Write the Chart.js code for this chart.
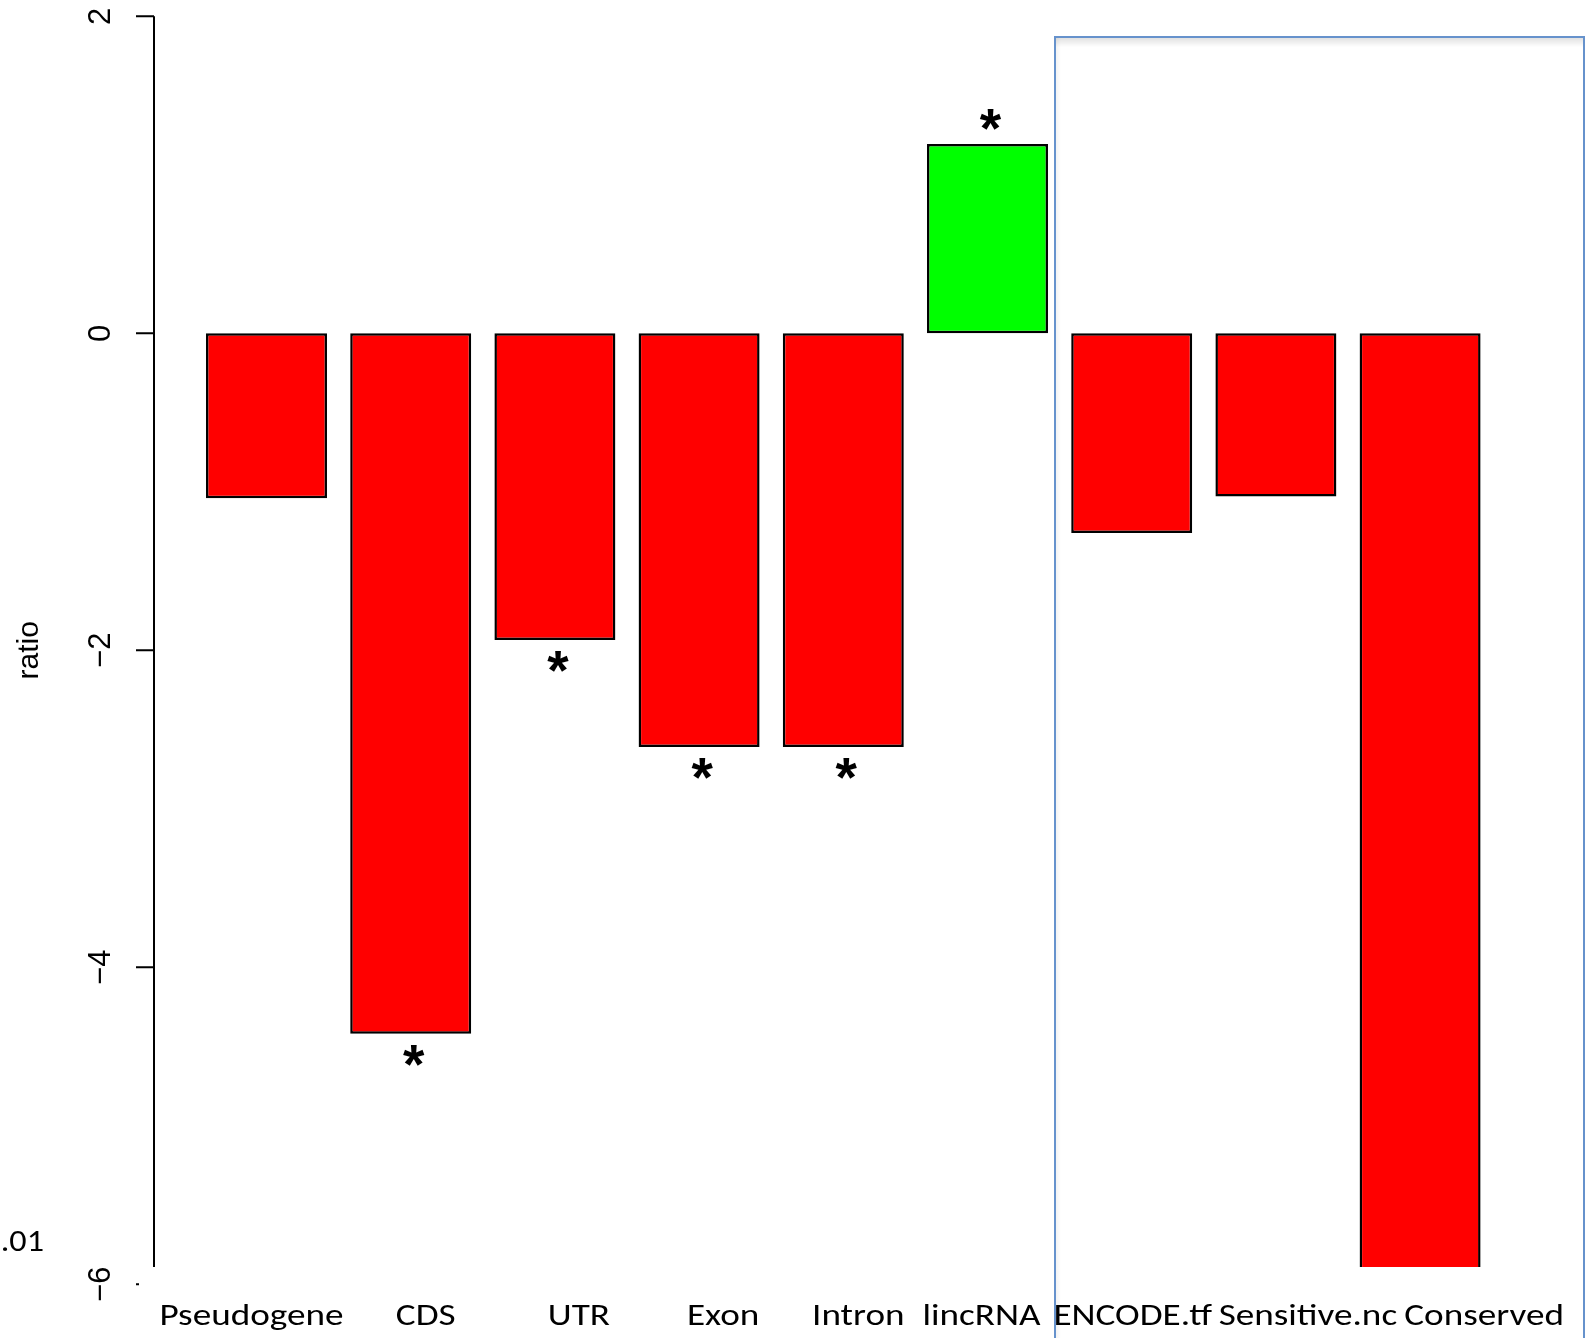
<!DOCTYPE html>
<html>
<head>
<meta charset="utf-8">
<script src="https://cdn.jsdelivr.net/npm/chart.js@4.4.0/dist/chart.umd.min.js"></script>
<style>
  html, body { margin: 0; padding: 0; background: #fff; }
  #wrap { width: 1591px; height: 1338px; position: relative; }
</style>
</head>
<body>
<div id="wrap"><canvas id="chart"></canvas></div>
<script>
// Data
const categories = ['Pseudogene', 'CDS', 'UTR', 'Exon', 'Intron', 'lincRNA', 'ENCODE.tf', 'Sensitive.nc', 'Conserved'];
const ratios = [-1.04, -4.42, -1.935, -2.61, -2.61, 1.195, -1.26, -1.03, -6.0];
const significant = [false, true, true, true, true, true, false, false, false];
const yTicks = [-6, -4, -2, 0, 2];
const yLabel = 'ratio';
const noteText = 'p<0.01';

// label nudges (the labels in the figure are not centred on the bars)
const labelShift = [-15, 15, 24, 24, 15, -6, 1, 32, 64];

const barColors = ratios.map(v => v >= 0 ? '#00ff00' : '#ff0000');

const decorations = {
    id: 'decorations',
    afterDraw(chart) {
        const ctx = chart.ctx;
        const y = chart.scales.y;
        const x = chart.scales.x;
        const axisX = 154;

        ctx.save();
        ctx.fillStyle = '#000';
        ctx.strokeStyle = '#000';

        // y axis line + ticks
        ctx.lineWidth = 2;
        ctx.beginPath();
        ctx.moveTo(axisX, y.getPixelForValue(yTicks[yTicks.length - 1]));
        ctx.lineTo(axisX, y.getPixelForValue(yTicks[0]));
        yTicks.forEach(t => {
            const py = y.getPixelForValue(t);
            ctx.moveTo(axisX - 18, py);
            ctx.lineTo(axisX, py);
        });
        ctx.stroke();

        // tick labels, rotated like base R
        ctx.font = '31px "Liberation Sans", Arial, sans-serif';
        ctx.textAlign = 'center';
        ctx.textBaseline = 'alphabetic';
        yTicks.forEach(t => {
            const py = y.getPixelForValue(t);
            ctx.save();
            ctx.translate(110, py);
            ctx.rotate(-Math.PI / 2);
            ctx.fillText(t < 0 ? '\u2212' + Math.abs(t) : String(t), 0, 0);
            ctx.restore();
        });

        // axis title
        ctx.font = '30px "Liberation Sans", Arial, sans-serif';
        ctx.save();
        ctx.translate(38, (chart.chartArea.top + chart.chartArea.bottom) / 2);
        ctx.rotate(-Math.PI / 2);
        ctx.fillText(yLabel, 0, 0);
        ctx.restore();

        // significance stars
        ctx.font = 'bold 60px "Liberation Sans", Arial, sans-serif';
        let m = ctx.measureText('*');
        const starSize = 60 * 22 / (m.actualBoundingBoxLeft + m.actualBoundingBoxRight);
        ctx.font = 'bold ' + starSize + 'px "Liberation Sans", Arial, sans-serif';
        m = ctx.measureText('*');
        ctx.textAlign = 'center';
        const gy = (m.actualBoundingBoxDescent - m.actualBoundingBoxAscent) / 2;
        ratios.forEach((v, i) => {
            if (!significant[i]) return;
            const cx = x.getPixelForValue(i) + 3;
            const cy = y.getPixelForValue(v) + (v >= 0 ? -24 : 22);
            ctx.fillText('*', cx, cy - gy);
        });

        // pasted label strip covers the bottom of the plot
        ctx.fillStyle = '#fff';
        ctx.fillRect(139, 1267, chart.width - 139, chart.height - 1267);

        // category labels (Calibri-like, fitted by width)
        ctx.fillStyle = '#000';
        ctx.font = '31px Carlito, Lato, sans-serif';
        ctx.textAlign = 'center';
        const sx = 184 / ctx.measureText(categories[0]).width;
        categories.forEach((c, i) => {
            ctx.save();
            ctx.translate(x.getPixelForValue(i) + labelShift[i], 1325);
            ctx.scale(sx, 1);
            ctx.fillText(c, 0, 0);
            ctx.restore();
        });

        // cut-off note at far left
        ctx.textAlign = 'right';
        ctx.save();
        ctx.translate(44, 1251);
        ctx.scale(sx * 0.92, 1);
        ctx.fillText(noteText, 0, 0);
        ctx.restore();

        // blue highlight box with a soft shadow
        const bx = 1055, by = 37, bw = 1584 - 1055;
        const g = ctx.createLinearGradient(0, by, 0, by + 10);
        g.addColorStop(0, 'rgba(0,0,0,0.13)');
        g.addColorStop(1, 'rgba(0,0,0,0)');
        ctx.fillStyle = g;
        ctx.fillRect(bx + 1, by + 1, bw - 2, 10);
        const g2 = ctx.createLinearGradient(bx, 0, bx + 6, 0);
        g2.addColorStop(0, 'rgba(0,0,0,0.06)');
        g2.addColorStop(1, 'rgba(0,0,0,0)');
        ctx.fillStyle = g2;
        ctx.fillRect(bx + 1, by + 1, 6, chart.height - by);
        ctx.strokeStyle = '#6692cc';
        ctx.lineWidth = 2;
        ctx.beginPath();
        ctx.moveTo(bx, chart.height + 2);
        ctx.lineTo(bx, by);
        ctx.lineTo(bx + bw, by);
        ctx.lineTo(bx + bw, chart.height + 2);
        ctx.stroke();

        ctx.restore();
    }
};

new Chart(document.getElementById('chart'), {
    type: 'bar',
    data: {
        labels: categories,
        datasets: [{
            data: ratios,
            backgroundColor: barColors,
            borderColor: '#000',
            borderWidth: 2.5,
            borderSkipped: false,
            barPercentage: 0.839,
            categoryPercentage: 1
        }]
    },
    options: {
        responsive: true,
        maintainAspectRatio: false,
        animation: false,
        layout: {
            padding: { left: 194.4, right: 98.8, top: 16.3, bottom: 53.7 }
        },
        scales: {
            x: { display: false },
            y: { display: false, min: -6, max: 2 }
        },
        plugins: {
            legend: { display: false },
            tooltip: { enabled: false }
        }
    },
    plugins: [decorations]
});
</script>
</body>
</html>
